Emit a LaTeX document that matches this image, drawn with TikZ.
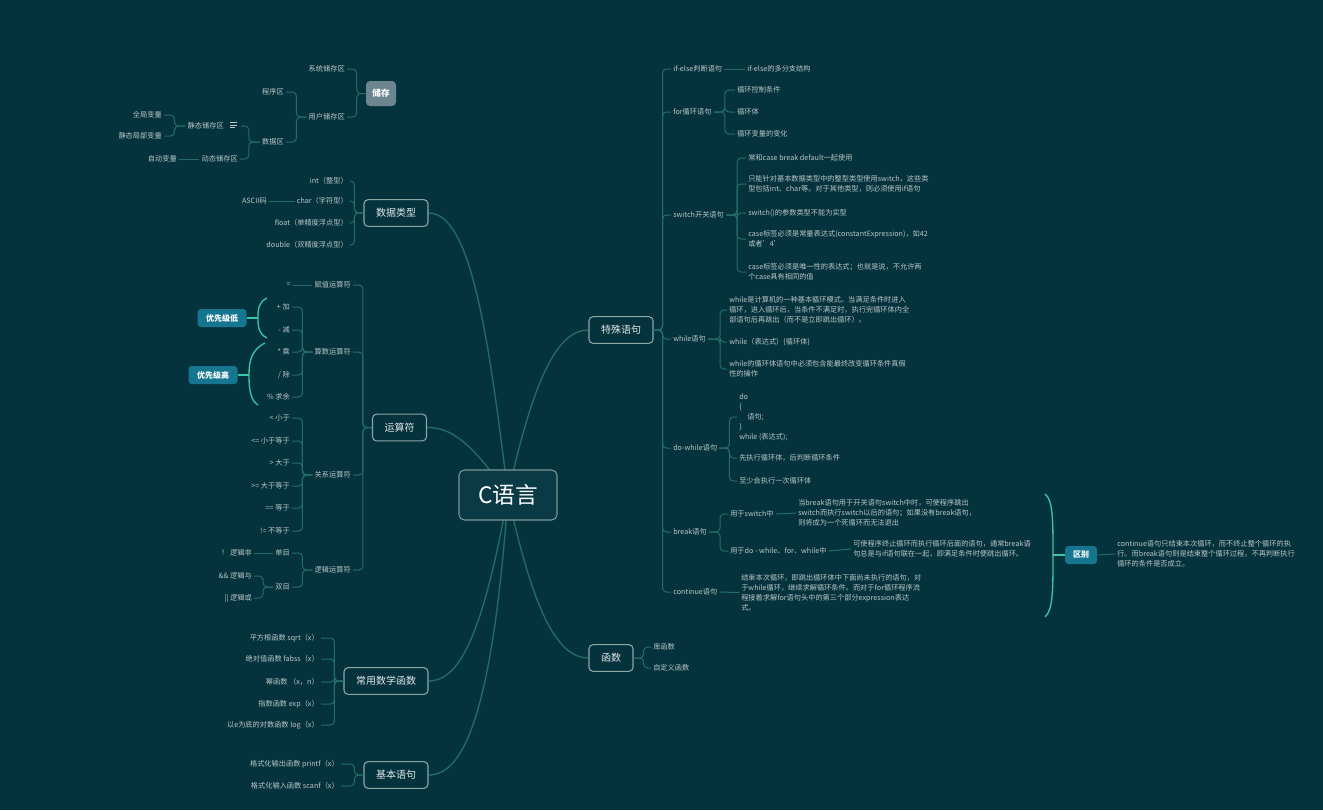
\documentclass[tikz,border=0pt]{standalone}
\usepackage{fontspec}
\setmainfont{Noto Sans CJK SC}
\usetikzlibrary{backgrounds}
\definecolor{bg}{RGB}{4,51,62}
\definecolor{linec}{RGB}{36,108,104}
\definecolor{brc}{RGB}{60,196,168}
\definecolor{boxc}{RGB}{140,165,165}
\definecolor{cfill}{RGB}{10,58,70}
\definecolor{cborder}{RGB}{125,152,152}
\definecolor{storec}{RGB}{108,134,144}
\definecolor{tagc}{RGB}{22,118,144}
\definecolor{txt}{RGB}{188,198,198}
\definecolor{mtxt}{RGB}{228,232,232}
\begin{document}
\begin{tikzpicture}[x=0.75pt,y=-0.75pt,
  lbl/.style={text=txt, font=\fontsize{5.4}{7.5}\selectfont, inner xsep=1.5pt, inner ysep=1pt, align=left},
  lr/.style={lbl, anchor=east},
  ll/.style={lbl, anchor=west},
  mainbox/.style={draw=boxc, fill=bg, rounded corners=3pt, line width=0.8pt, text=mtxt, font=\fontsize{7.5}{9}\selectfont, inner xsep=9pt, minimum height=20pt},
  br/.style={draw=linec, line width=0.75pt, rounded corners=3pt},
  cv/.style={draw=linec, line width=1pt},
  brk/.style={draw=brc, line width=1pt},
  tagbox/.style={fill=tagc, rounded corners=2.5pt, text=white, font=\fontsize{6}{7}\selectfont\bfseries, minimum width=36.75pt, minimum height=13.5pt, inner sep=0pt}
]
\useasboundingbox (0,0) rectangle (1323,810);

% centre
\node[draw=cborder, fill=cfill, rounded corners=4pt, line width=0.8pt, minimum width=73.5pt, minimum height=37.5pt, text=white, font=\fontsize{17}{20}\selectfont] (cn) at (508,495) {C语言};

% main topics
\node[mainbox] (ds) at (396,213) {数据类型};
\node[mainbox] (ys) at (399.5,427.5) {运算符};
\node[mainbox] (sx) at (386,681) {常用数学函数};
\node[mainbox] (jb) at (396,775) {基本语句};
\node[mainbox] (ts) at (621,330) {特殊语句};
\node[mainbox] (hs) at (611,658) {函数};

\begin{scope}[on background layer]
\fill[bg] (0,0) rectangle (1323,810);
\draw[cv] (cn.center) .. controls (488,330) and (470,213) .. (ds.east);
\draw[cv] (cn.center) .. controls (470,440) and (450,427.5) .. (ys.east);
\draw[cv] (cn.center) .. controls (482,640) and (458,681) .. (sx.east);
\draw[cv] (cn.center) .. controls (492,720) and (462,775) .. (jb.east);
\draw[cv] (cn.center) .. controls (535,370) and (560,330) .. (ts.west);
\draw[cv] (cn.center) .. controls (535,620) and (560,658) .. (hs.west);
\end{scope}

% storage
\node[fill=storec, rounded corners=3pt, text=white, font=\fontsize{6.5}{8}\selectfont\bfseries, minimum width=22.5pt, minimum height=18.75pt, inner sep=0pt] (cc) at (381,93.5) {储存};
\node[lr] (xt) at (347,69) {系统储存区};
\node[lr] (yh) at (347,117) {用户储存区};
\node[lr] (cx) at (286,92) {程序区};
\node[lr] (sj) at (286,142) {数据区};
\node[lr] (jt) at (226,126) {静态储存区};
\coordinate (jtr) at (241,126);
\node[lr] (dt) at (240,159) {动态储存区};
\node[lr] (qj) at (164,115) {全局变量};
\node[lr] (jj) at (164,136) {静态局部变量};
\node[lr] (zd) at (179,159) {自动变量};
\draw[txt, line width=0.6pt] (230,122.7) -- (237,122.7) (230,125) -- (237,125) (230,127.3) -- (235,127.3);
\draw[br] (cc.west) -- ++(-9,0) |- (xt.east);
\draw[br] (cc.west) -- ++(-9,0) |- (yh.east);
\draw[br] (yh.west) -- ++(-10,0) |- (cx.east);
\draw[br] (yh.west) -- ++(-10,0) |- (sj.east);
\draw[br] (sj.west) -- ++(-11,0) |- (jtr);
\draw[br] (sj.west) -- ++(-11,0) |- (dt.east);
\draw[br] (jt.west) -- ++(-11,0) |- (qj.east);
\draw[br] (jt.west) -- ++(-11,0) |- (jj.east);
\draw[br] (dt.west) -- (zd.east);

% data types
\node[lr] (d1) at (350,181) {int（整型）};
\node[lr] (d2) at (350,201) {char（字符型）};
\node[lr] (d3) at (350,223) {float（单精度浮点型）};
\node[lr] (d4) at (350,245) {double（双精度浮点型）};
\node[lr] (d2a) at (269,201) {ASCII码};
\foreach \n in {d1,d2,d3,d4} \draw[br] (ds.west) -- ++(-9,0) |- (\n.east);
\draw[br] (d2.west) -- (d2a.east);

% operators
\node[lr] (fz) at (353,285) {赋值运算符};
\node[lr] (eq) at (293,285) {=};
\node[lr] (ss) at (353,352) {算数运算符};
\node[lr] (o1) at (292,307) {+ 加};
\node[lr] (o2) at (292,330) {- 减};
\node[lr] (o3) at (292,352) {* 乘};
\node[lr] (o4) at (292,375) {/ 除};
\node[lr] (o5) at (292,397) {\% 求余};
\node[lr] (gx) at (353,475) {关系运算符};
\node[lr] (r1) at (292,418) {< 小于};
\node[lr] (r2) at (292,441) {<= 小于等于};
\node[lr] (r3) at (292,463) {> 大于};
\node[lr] (r4) at (292,486) {>= 大于等于};
\node[lr] (r5) at (292,508) {== 等于};
\node[lr] (r6) at (292,531) {!= 不等于};
\node[lr] (lj) at (353,570) {逻辑运算符};
\node[lr] (dm) at (292,553) {单目};
\node[lr] (sm) at (292,587) {双目};
\node[lr] (l1) at (254,553) {！ 逻辑非};
\node[lr] (l2) at (254,576) {\&\& 逻辑与};
\node[lr] (l3) at (254,598) {|| 逻辑或};
\foreach \n in {fz,ss,gx,lj} \draw[br] (ys.west) -- ++(-9,0) |- (\n.east);
\draw[br] (fz.west) -- (eq.east);
\foreach \n in {o1,o2,o3,o4,o5} \draw[br] (ss.west) -- ++(-10,0) |- (\n.east);
\foreach \n in {r1,r2,r3,r4,r5,r6} \draw[br] (gx.west) -- ++(-10,0) |- (\n.east);
\foreach \n in {dm,sm} \draw[br] (lj.west) -- ++(-10,0) |- (\n.east);
\draw[br] (dm.west) -- (l1.east);
\foreach \n in {l2,l3} \draw[br] (sm.west) -- ++(-10,0) |- (\n.east);

% priority tags
\node[tagbox] (pl) at (222,318) {优先级低};
\node[tagbox] (ph) at (213,375) {优先级高};
\coordinate (plb) at (258,318);
\coordinate (phb) at (249,375);
\draw[brk] (267,298) .. controls (259,302) and (258,308) .. (plb) .. controls (258,328) and (259,334) .. (267,338);
\draw[brk] (pl.east) -- (plb);
\draw[brk] (265,343) .. controls (251,350) and (249,362) .. (phb) .. controls (249,388) and (250,400) .. (258,405);
\draw[brk] (ph.east) -- (phb);

% math functions
\node[lr] (m1) at (321,638) {平方根函数 sqrt（x）};
\node[lr] (m2) at (321,659) {绝对值函数 fabss（x）};
\node[lr] (m3) at (321,682) {幂函数 （x，n）};
\node[lr] (m4) at (321,704) {指数函数 exp（x）};
\node[lr] (m5) at (321,725) {以e为底的对数函数 log（x）};
\foreach \n in {m1,m2,m3,m4,m5} \draw[br] (sx.west) -- ++(-9,0) |- (\n.east);
\node[lr] (b1) at (341,764) {格式化输出函数 printf（x）};
\node[lr] (b2) at (341,786) {格式化输入函数 scanf（x）};
\foreach \n in {b1,b2} \draw[br] (jb.west) -- ++(-9,0) |- (\n.east);

% special statements
\node[ll] (ie) at (671,69) {if-else判断语句};
\node[ll] (ie1) at (745,69) {if-else的多分支结构};
\node[ll] (fo) at (671,112) {for循环语句};
\node[ll] (f1) at (735,90) {循环控制条件};
\node[ll] (f2) at (735,112) {循环体};
\node[ll] (f3) at (735,134) {循环变量的变化};
\node[ll] (sw) at (671,215) {switch开关语句};
\node[ll] (s1) at (746,158) {常和case break default一起使用};
\node[ll] (s2) at (746,184) {只能针对基本数据类型中的整型类型使用switch，这些类\\型包括int、char等。对于其他类型，则必须使用if语句};
\node[ll] (s3) at (746,213) {switch()的参数类型不能为实型};
\node[ll] (s4) at (746,239) {case标签必须是常量表达式(constantExpression)，如42\\或者\symbol{39}4\symbol{39}};
\node[ll] (s5) at (746,272) {case标签必须是唯一性的表达式；也就是说，不允许两\\个case具有相同的值};
\node[ll] (wh) at (671,339) {while语句};
\node[ll] (w1) at (727,310) {while是计算机的一种基本循环模式。当满足条件时进入\\循环，进入循环后，当条件不满足时，执行完循环体内全\\部语句后再跳出（而不是立即跳出循环）。};
\node[ll] (w2) at (727,342) {while（表达式）\{循环体\}};
\node[ll] (w3) at (727,369) {while的循环体语句中必须包含能最终改变循环条件真假\\性的操作};
\node[ll] (dw) at (671,448) {do-while语句};
\node[ll] (dw1) at (737,417) {do\\\{\\\hspace*{6pt}语句;\\\}\\while (表达式);};
\node[ll] (dw2) at (737,458) {先执行循环体，后判断循环条件};
\node[ll] (dw3) at (737,481) {至少会执行一次循环体};
\node[ll] (bk) at (671,532) {break语句};
\node[ll] (bs) at (728,514) {用于switch中};
\node[ll] (bs1) at (796,513) {当break语句用于开关语句switch中时，可使程序跳出\\switch而执行switch以后的语句；如果没有break语句，\\则将成为一个死循环而无法退出};
\node[ll] (bd) at (728,551) {用于do - while、for、while中};
\node[ll] (bd1) at (851,549) {可使程序终止循环而执行循环后面的语句，通常break语\\句总是与if语句联在一起，即满足条件时便跳出循环。};
\node[ll] (co) at (671,592) {continue语句};
\node[ll] (co1) at (739,592.5) {结束本次循环，即跳出循环体中下面尚未执行的语句，对\\于while循环，继续求解循环条件。而对于for循环程序流\\程接着求解for语句头中的第三个部分expression表达\\式。};
\foreach \n in {ie,fo,sw,wh,dw,bk,co} \draw[br] (ts.east) -- ++(9,0) |- (\n.west);
\draw[br] (ie.east) -- (ie1.west);
\foreach \n in {f1,f2,f3} \draw[br] (fo.east) -- ++(11,0) |- (\n.west);
\foreach \n in {s1,s2,s3,s4,s5} \draw[br] (sw.east) -- ++(11,0) |- (\n.west);
\foreach \n in {w1,w2,w3} \draw[br] (wh.east) -- ++(12,0) |- (\n.west);
\foreach \n in {dw1,dw2,dw3} \draw[br] (dw.east) -- ++(10,0) |- (\n.west);
\foreach \n in {bs,bd} \draw[br] (bk.east) -- ++(11,0) |- (\n.west);
\draw[br] (bs.east) -- (bs1.west);
\draw[br] (bd.east) -- (bd1.west);
\draw[br] (co.east) -- (co1.west);

% functions
\node[ll] (h1) at (651,647) {库函数};
\node[ll] (h2) at (651,668) {自定义函数};
\foreach \n in {h1,h2} \draw[br] (hs.east) -- ++(10,0) |- (\n.west);

% difference summary
\node[tagbox, minimum width=24pt] (qb) at (1081,555) {区别};
\coordinate (qbb) at (1053,555);
\draw[brk] (1045,494) .. controls (1053,500) and (1053,520) .. (qbb) .. controls (1053,590) and (1053,610) .. (1045,617);
\draw[brk] (qbb) -- (qb.west);
\node[ll] (qb1) at (1115,554) {continue语句只结束本次循环，而不终止整个循环的执\\行。而break语句则是结束整个循环过程，不再判断执行\\循环的条件是否成立。};
\draw[br] (qb.east) -- (qb1.west);
\end{tikzpicture}
\end{document}
